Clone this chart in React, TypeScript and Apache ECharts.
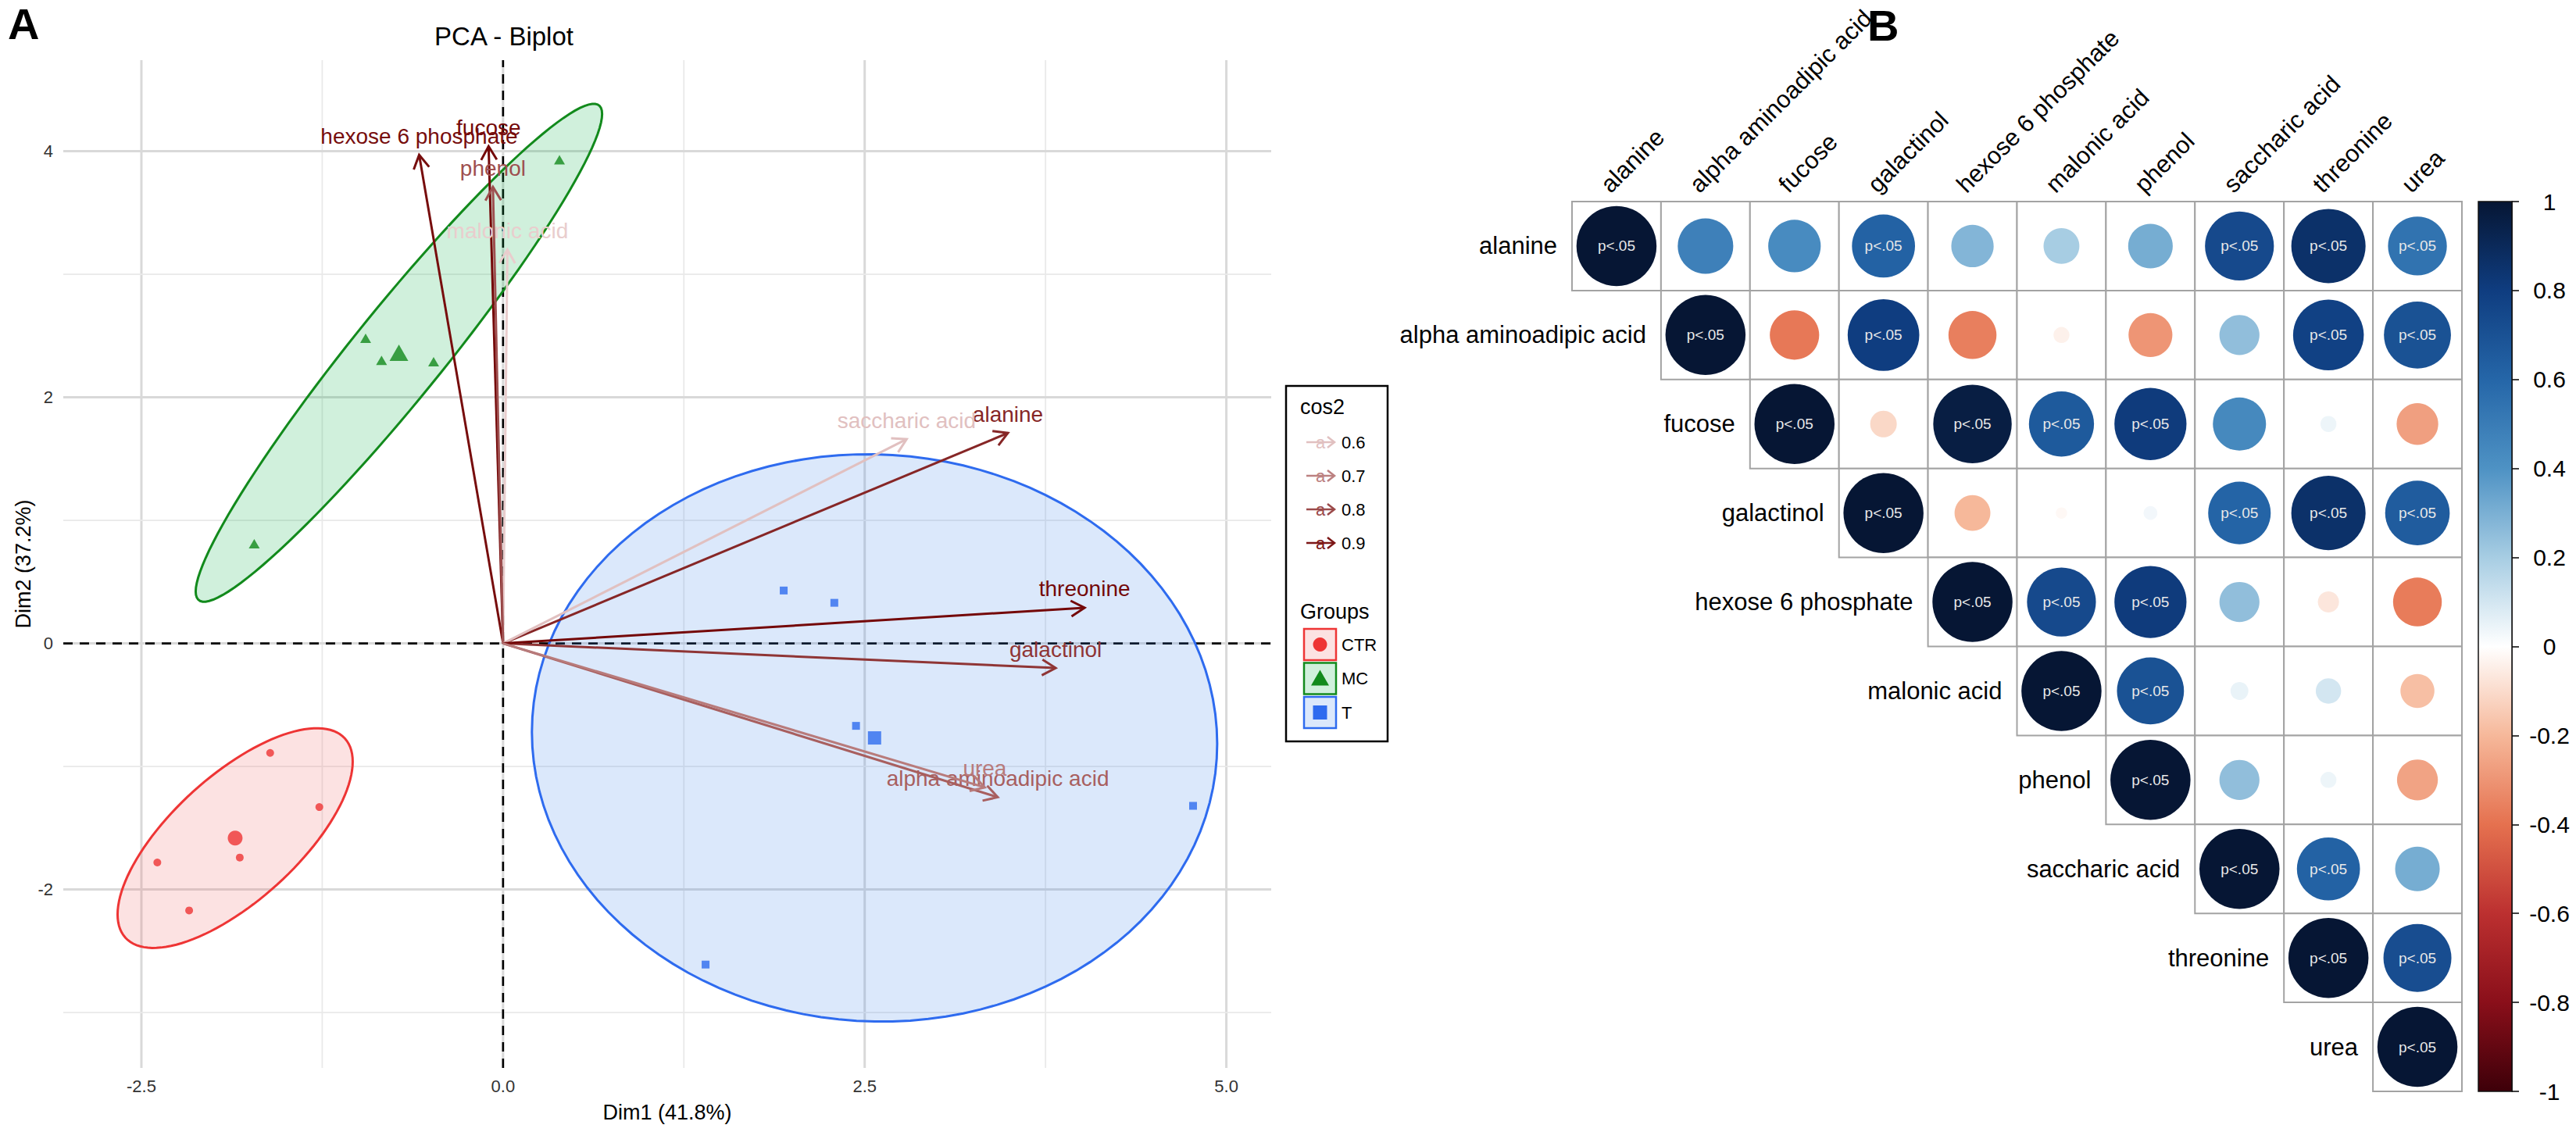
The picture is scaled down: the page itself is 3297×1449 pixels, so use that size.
import React, { useEffect, useRef } from "react";
import * as echarts from "echarts";

const W = 3297;
const H = 1449;
const FONT = "'Liberation Sans', Arial, Helvetica, sans-serif";

// ---------- Panel A : PCA biplot ----------
const X_MIN = -3.04;
const X_MAX = 5.31;
const Y_MIN = -3.45;
const Y_MAX = 4.74;
const xMajorTicks = [-2.5, 0, 2.5, 5];
const xMinorTicks = [-1.25, 1.25, 3.75];
const yMajorTicks = [-2, 0, 2, 4];
const yMinorTicks = [-3, -1, 1, 3];

const groupNames = ["CTR", "MC", "T"];
const ctrX = [-1.61, -1.27, -1.82, -2.39, -2.17];
const ctrY = [-0.89, -1.33, -1.74, -1.78, -2.17];
const mcX = [-0.95, -0.84, -0.48, 0.39, -1.72];
const mcY = [2.48, 2.3, 2.29, 3.93, 0.81];
const tX = [1.94, 2.29, 2.44, 4.77, 1.4];
const tY = [0.43, 0.33, -0.67, -1.32, -2.61];
const ELLIPSE_K = 1.83;

const varNames = [
  "alanine",
  "alpha aminoadipic acid",
  "fucose",
  "galactinol",
  "hexose 6 phosphate",
  "malonic acid",
  "phenol",
  "saccharic acid",
  "threonine",
  "urea",
];
const varX = [3.49, 3.42, -0.1, 3.82, -0.58, 0.03, -0.07, 2.79, 4.02, 3.33];
const varY = [1.71, -1.25, 4.04, -0.2, 3.97, 3.2, 3.71, 1.66, 0.29, -1.17];
const varCos2 = [0.87, 0.76, 0.93, 0.84, 0.92, 0.585, 0.79, 0.6, 0.93, 0.71];
const cos2LegendValues = [0.6, 0.7, 0.8, 0.9];

// ---------- Panel B : correlation matrix (upper triangle, row-wise) ----------
const corrRows = [
  [1, 0.48, 0.43, 0.62, 0.28, 0.2, 0.31, 0.74, 0.86, 0.54],
  [1, -0.38, 0.8, -0.36, -0.04, -0.3, 0.25, 0.78, 0.7],
  [1, -0.11, 0.96, 0.66, 0.81, 0.44, 0.04, -0.27],
  [1, -0.2, -0.02, 0.03, 0.61, 0.86, 0.65],
  [1, 0.74, 0.81, 0.25, -0.07, -0.37],
  [1, 0.7, 0.05, 0.1, -0.18],
  [1, 0.25, 0.04, -0.26],
  [1, 0.62, 0.31],
  [1, 0.72],
  [1],
];
const sigRows = [
  [1, 0, 0, 1, 0, 0, 0, 1, 1, 1],
  [1, 0, 1, 0, 0, 0, 0, 1, 1],
  [1, 0, 1, 1, 1, 0, 0, 0],
  [1, 0, 0, 0, 1, 1, 1],
  [1, 1, 1, 0, 0, 0],
  [1, 1, 0, 0, 0],
  [1, 0, 0, 0],
  [1, 1, 0],
  [1, 1],
  [1],
];
const corrPalette = [
  "#3d0009", "#8a0f1a", "#bc3030", "#e5714f", "#f6b89a", "#ffffff",
  "#a7cde3", "#4e92c4", "#2566a8", "#0f3d80", "#061634",
];

// ---------- helpers ----------
function hexToRgb(h: string) {
  const n = parseInt(h.slice(1), 16);
  return [(n >> 16) & 255, (n >> 8) & 255, n & 255];
}
function mix(a: string, b: string, t: number) {
  const A = hexToRgb(a), B = hexToRgb(b);
  const c = A.map((v, i) => Math.round(v + (B[i] - v) * t));
  return `rgb(${c[0]},${c[1]},${c[2]})`;
}
function corrColor(r: number) {
  const pos = ((r + 1) / 2) * (corrPalette.length - 1);
  const i = Math.min(corrPalette.length - 2, Math.max(0, Math.floor(pos)));
  return mix(corrPalette[i], corrPalette[i + 1], pos - i);
}
const COS2_LO = 0.58, COS2_HI = 0.93;
function cos2Color(c: number) {
  const t = Math.min(1, Math.max(0, (c - COS2_LO) / (COS2_HI - COS2_LO)));
  return mix("#ecd2d2", "#740808", Math.pow(t, 0.85));
}
function mean(a: number[]) {
  return a.reduce((s, v) => s + v, 0) / a.length;
}
function ellipsePoints(xs: number[], ys: number[]) {
  const mx = mean(xs), my = mean(ys), n = xs.length;
  let sxx = 0, syy = 0, sxy = 0;
  for (let i = 0; i < n; i++) {
    sxx += (xs[i] - mx) ** 2;
    syy += (ys[i] - my) ** 2;
    sxy += (xs[i] - mx) * (ys[i] - my);
  }
  sxx /= n - 1; syy /= n - 1; sxy /= n - 1;
  const l11 = Math.sqrt(sxx), l21 = sxy / l11, l22 = Math.sqrt(Math.max(0, syy - l21 * l21));
  const pts: number[][] = [];
  for (let k = 0; k <= 120; k++) {
    const t = (k / 120) * Math.PI * 2;
    const u = Math.cos(t), v = Math.sin(t);
    pts.push([mx + ELLIPSE_K * l11 * u, my + ELLIPSE_K * (l21 * u + l22 * v)]);
  }
  return pts;
}

const groups = [
  { name: "CTR", xs: ctrX, ys: ctrY, color: "#ee3535", fill: "rgba(240,110,110,0.2)", symbol: "circle", size: 10, meanSize: 19 },
  { name: "MC", xs: mcX, ys: mcY, color: "#128a1c", fill: "rgba(20,180,80,0.2)", symbol: "triangle", size: [14, 12], meanSize: [24, 21] },
  { name: "T", xs: tX, ys: tY, color: "#2e6bef", fill: "rgba(75,140,235,0.2)", symbol: "rect", size: 10, meanSize: 17 },
];

function buildOption() {
  const gridData: number[][] = [];
  xMajorTicks.forEach((v) => gridData.push([v, 0, 1]));
  xMinorTicks.forEach((v) => gridData.push([v, 0, 0]));
  yMajorTicks.forEach((v) => gridData.push([v, 1, 1]));
  yMinorTicks.forEach((v) => gridData.push([v, 1, 0]));
  const zeroData = [[0, 0, 2], [0, 1, 2]];

  const lineRender = (params: any, api: any) => {
    const v = api.value(0), orient = api.value(1), kind = api.value(2);
    const a = orient === 0 ? api.coord([v, Y_MIN]) : api.coord([X_MIN, v]);
    const b = orient === 0 ? api.coord([v, Y_MAX]) : api.coord([X_MAX, v]);
    const style: any =
      kind === 2
        ? { stroke: "#000", lineWidth: 2.6, lineDash: [12, 9] }
        : kind === 1
        ? { stroke: "#d9d9d9", lineWidth: 3 }
        : { stroke: "#e9e9e9", lineWidth: 1.8 };
    return { type: "line", shape: { x1: a[0], y1: a[1], x2: b[0], y2: b[1] }, style };
  };

  const corrData: number[][] = [];
  corrRows.forEach((row, i) =>
    row.forEach((r, k) => corrData.push([i + k, i, r, sigRows[i][k]]))
  );

  const series: any[] = [
    { type: "custom", xAxisIndex: 0, yAxisIndex: 0, z: 1, silent: true, data: gridData, renderItem: lineRender },
    { type: "custom", xAxisIndex: 0, yAxisIndex: 0, z: 2, silent: true, data: zeroData, renderItem: lineRender },
    {
      type: "custom", xAxisIndex: 0, yAxisIndex: 0, z: 3, silent: true,
      data: groups.map((g, i) => [mean(g.xs), mean(g.ys), i]),
      renderItem: (params: any, api: any) => {
        const g = groups[params.dataIndex];
        const pts = ellipsePoints(g.xs, g.ys).map((p) => api.coord(p));
        return { type: "polygon", shape: { points: pts }, style: { fill: g.fill, stroke: g.color, lineWidth: 3 } };
      },
    },
  ];
  groups.forEach((g) => {
    series.push({
      type: "scatter", xAxisIndex: 0, yAxisIndex: 0, z: 4, silent: true,
      symbol: g.symbol, symbolSize: g.size, itemStyle: { color: g.color },
      data: g.xs.map((x, i) => [x, g.ys[i]]),
    });
    series.push({
      type: "scatter", xAxisIndex: 0, yAxisIndex: 0, z: 4, silent: true,
      symbol: g.symbol, symbolSize: g.meanSize, itemStyle: { color: g.color },
      data: [[mean(g.xs), mean(g.ys)]],
    });
  });
  series.push({
    type: "custom", xAxisIndex: 0, yAxisIndex: 0, z: 5, silent: true,
    data: varX.map((x, i) => [x, varY[i], varCos2[i]]),
    renderItem: (params: any, api: any) => {
      const i = params.dataIndex;
      const o = api.coord([0, 0]);
      const t = api.coord([api.value(0), api.value(1)]);
      const col = cos2Color(api.value(2));
      const ang = Math.atan2(t[1] - o[1], t[0] - o[0]);
      const L = 20, A = Math.PI / 6;
      const p1 = [t[0] - L * Math.cos(ang - A), t[1] - L * Math.sin(ang - A)];
      const p2 = [t[0] - L * Math.cos(ang + A), t[1] - L * Math.sin(ang + A)];
      return {
        type: "group",
        children: [
          { type: "line", shape: { x1: o[0], y1: o[1], x2: t[0], y2: t[1] }, style: { stroke: col, lineWidth: 3 } },
          { type: "polyline", shape: { points: [p1, t, p2] }, style: { stroke: col, lineWidth: 3, fill: null } },
          {
            type: "text",
            style: { text: varNames[i], x: t[0], y: t[1] - 24, align: "center", verticalAlign: "middle", fill: col, fontSize: 28, fontFamily: FONT },
          },
        ],
      };
    },
  });
  series.push({
    type: "custom", xAxisIndex: 1, yAxisIndex: 1, z: 3, silent: true,
    data: corrData,
    renderItem: (params: any, api: any) => {
      const col = api.value(0), row = api.value(1), r = api.value(2), sig = api.value(3);
      const c = api.coord([col, row]);
      const s = api.size([1, 1]);
      const w = s[0], h = s[1];
      const children: any[] = [
        { type: "rect", shape: { x: c[0] - w / 2, y: c[1] - h / 2, width: w, height: h }, style: { fill: "#fff", stroke: "#a3a3a3", lineWidth: 2 } },
        { type: "circle", shape: { cx: c[0], cy: c[1], r: 0.45 * w * Math.sqrt(Math.abs(r)) }, style: { fill: corrColor(r) } },
      ];
      if (sig) {
        children.push({
          type: "text",
          style: { text: "p<.05", x: c[0], y: c[1], align: "center", verticalAlign: "middle", fill: "#e8e8e8", fontSize: 19, fontFamily: FONT },
        });
      }
      if (col === row) {
        children.push({
          type: "text",
          style: { text: varNames[row], x: c[0] - w / 2 - 19, y: c[1], align: "right", verticalAlign: "middle", fill: "#000", fontSize: 31, fontFamily: FONT },
        });
        const top = api.coord([col, 0])[1] - h / 2;
        children.push({
          type: "text", x: c[0] - 4, y: top - 6, rotation: Math.PI / 4,
          style: { text: varNames[col], x: 0, y: 0, align: "left", verticalAlign: "bottom", fill: "#000", fontSize: 31, fontFamily: FONT },
        });
      }
      return { type: "group", children };
    },
  });
  const cbStops = corrPalette.map((c, i) => ({ offset: 1 - i / (corrPalette.length - 1), color: c }));
  series.push({
    type: "custom", xAxisIndex: 2, yAxisIndex: 2, z: 3, silent: true,
    data: [[0, 0]],
    renderItem: (params: any, api: any) => {
      const top = api.coord([0, 1]);
      const bot = api.coord([0, -1]);
      const bw = api.size([1, 0])[0];
      return {
        type: "rect",
        shape: { x: top[0] - bw / 2, y: top[1], width: bw, height: bot[1] - top[1] },
        style: { fill: new echarts.graphic.LinearGradient(0, 0, 0, 1, cbStops.slice().reverse()), stroke: "#111", lineWidth: 1.5 },
      };
    },
  });

  const legendX = 1646, legendY = 494;
  const graphic: any[] = [
    { type: "text", x: 10, y: 30, style: { text: "A", fontSize: 56, fontWeight: "bold", fill: "#000", fontFamily: FONT, align: "left", verticalAlign: "middle" } },
    { type: "text", x: 2390, y: 32, style: { text: "B", fontSize: 56, fontWeight: "bold", fill: "#000", fontFamily: FONT, align: "left", verticalAlign: "middle" } },
    { type: "text", x: 645, y: 46, style: { text: "PCA - Biplot", fontSize: 33, fill: "#000", fontFamily: FONT, align: "center", verticalAlign: "middle" } },
    { type: "rect", shape: { x: legendX, y: legendY, width: 130, height: 455 }, style: { fill: "none", stroke: "#000", lineWidth: 2.5 } },
    { type: "text", x: legendX + 18, y: 521, style: { text: "cos2", fontSize: 27, fill: "#000", fontFamily: FONT, align: "left", verticalAlign: "middle" } },
    { type: "text", x: legendX + 18, y: 783, style: { text: "Groups", fontSize: 27, fill: "#000", fontFamily: FONT, align: "left", verticalAlign: "middle" } },
  ];
  cos2LegendValues.forEach((v, i) => {
    const y = 566 + i * 43;
    const col = cos2Color(v);
    graphic.push({ type: "line", shape: { x1: 1672, y1: y, x2: 1708, y2: y }, style: { stroke: col, lineWidth: 2.5 } });
    graphic.push({ type: "polyline", shape: { points: [[1699, y - 7], [1708, y], [1699, y + 7]] }, style: { stroke: col, lineWidth: 2.5, fill: null } });
    graphic.push({ type: "text", x: 1690, y: y, style: { text: "a", fontSize: 22, fill: col, fontFamily: FONT, align: "center", verticalAlign: "middle" } });
    graphic.push({ type: "text", x: 1717, y: y, style: { text: String(v), fontSize: 22, fill: "#000", fontFamily: FONT, align: "left", verticalAlign: "middle" } });
  });
  groups.forEach((g, i) => {
    const y = 825 + i * 43.5;
    graphic.push({ type: "rect", shape: { x: 1669, y: y - 20, width: 41, height: 40 }, style: { fill: g.fill, stroke: g.color, lineWidth: 2.5 } });
    if (g.symbol === "circle") {
      graphic.push({ type: "circle", shape: { cx: 1689.5, cy: y, r: 9 }, style: { fill: g.color } });
    } else if (g.symbol === "triangle") {
      graphic.push({ type: "polygon", shape: { points: [[1689.5, y - 11], [1701, y + 9], [1678, y + 9]] }, style: { fill: g.color } });
    } else {
      graphic.push({ type: "rect", shape: { x: 1680.5, y: y - 9, width: 18, height: 18 }, style: { fill: g.color } });
    }
    graphic.push({ type: "text", x: 1717, y: y, style: { text: groupNames[i], fontSize: 22, fill: "#000", fontFamily: FONT, align: "left", verticalAlign: "middle" } });
  });

  return {
    animation: false,
    backgroundColor: "#ffffff",
    textStyle: { fontFamily: FONT },
    grid: [
      { left: 81, top: 77, width: 1546, height: 1290 },
      { left: 2012, top: 258, width: 1139, height: 1139 },
      { left: 3172, top: 258, width: 43, height: 1139 },
    ],
    xAxis: [
      {
        type: "value", gridIndex: 0, min: X_MIN, max: X_MAX,
        axisLine: { show: false }, axisTick: { show: false }, splitLine: { show: false },
        axisLabel: { customValues: xMajorTicks, formatter: (v: number) => v.toFixed(1), fontSize: 22, color: "#333", margin: 12, fontFamily: FONT },
        name: "Dim1 (41.8%)", nameLocation: "middle", nameGap: 43,
        nameTextStyle: { fontSize: 27, color: "#000", fontFamily: FONT },
      },
      { type: "category", gridIndex: 1, data: varNames, show: false },
      { type: "category", gridIndex: 2, data: ["bar"], show: false },
    ],
    yAxis: [
      {
        type: "value", gridIndex: 0, min: Y_MIN, max: Y_MAX,
        axisLine: { show: false }, axisTick: { show: false }, splitLine: { show: false },
        axisLabel: { customValues: yMajorTicks, formatter: (v: number) => String(v), fontSize: 22, color: "#333", margin: 13, fontFamily: FONT },
        name: "Dim2 (37.2%)", nameLocation: "middle", nameGap: 38, nameRotate: 90,
        nameTextStyle: { fontSize: 27, color: "#000", fontFamily: FONT },
      },
      { type: "category", gridIndex: 1, data: varNames, inverse: true, show: false },
      {
        type: "value", gridIndex: 2, min: -1, max: 1, interval: 0.2, position: "right",
        axisLine: { show: true, lineStyle: { color: "#000", width: 1.5 } },
        axisTick: { show: true, length: 9, lineStyle: { color: "#000", width: 1.5 } },
        splitLine: { show: false },
        axisLabel: { formatter: (v: number) => String(Number(v.toFixed(1))), align: "center", margin: 48, fontSize: 30, color: "#000", fontFamily: FONT },
      },
    ],
    series,
    graphic,
  };
}

export default function App() {
  const ref = useRef<HTMLDivElement>(null);
  useEffect(() => {
    if (!ref.current) return;
    const chart = echarts.init(ref.current, null, { renderer: "svg", width: W, height: H });
    chart.setOption(buildOption() as any);
    return () => chart.dispose();
  }, []);
  return (
    <div
      ref={ref}
      style={{ position: "fixed", left: 0, top: 0, width: W, height: H, background: "#fff" }}
    />
  );
}
